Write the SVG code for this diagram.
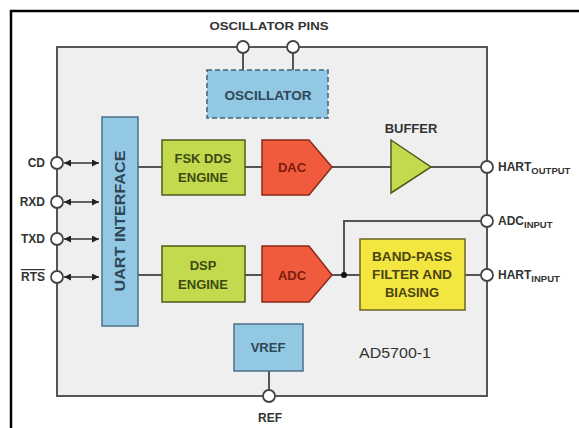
<svg xmlns="http://www.w3.org/2000/svg" width="579" height="428" viewBox="0 0 579 428">
<style>
text{font-family:"Liberation Sans",Arial,sans-serif;font-weight:bold;fill:#333}
.lbl{font-size:11px}
.side{font-size:12px}
.bt{font-size:13px}
.ctr{text-anchor:middle}
.box-blue{fill:#92c8e4;stroke:#4d7189;stroke-width:1.5}
.box-green{fill:#c3d94e;stroke:#4d5b1c;stroke-width:1.5}
.box-red{fill:#ef5b3c;stroke:#8a2a18;stroke-width:1.5}
.box-yellow{fill:#f3e640;stroke:#6b6420;stroke-width:1.5}
.wire{fill:none;stroke:#555;stroke-width:2}
.pin{fill:#fff;stroke:#444;stroke-width:1.8}
.tg{fill:#3e4a14}
.tr{fill:#7a1d10}
.tb{fill:#2f4656}
.ty{fill:#4a4410}
</style>
<defs>
<marker id="ah" viewBox="0 0 10 10" refX="10" refY="5" markerUnits="userSpaceOnUse" markerWidth="10" markerHeight="7" orient="auto-start-reverse">
<path d="M0,0 L10,5 L0,10 z" fill="#222"/>
</marker>
</defs>
<rect width="579" height="428" fill="#fff"/>
<g id="frame">
<path d="M11,428 L11,11 L579,11" fill="none" stroke="#000" stroke-width="2.5"/>
</g>
<g id="chip">
<rect x="57" y="47" width="430" height="349" fill="#efefef" stroke="#555" stroke-width="2"/>
<text x="359" y="358" style="font-size:15px;font-weight:normal" textLength="72" lengthAdjust="spacingAndGlyphs">AD5700-1</text>
</g>
<g id="connectors">
<line class="wire" x1="243" y1="53" x2="243" y2="70"/>
<line class="wire" x1="293" y1="53" x2="293" y2="70"/>
<line class="wire" x1="138" y1="167" x2="162" y2="167"/>
<line class="wire" x1="138" y1="275" x2="162" y2="275"/>
<line class="wire" x1="245" y1="167" x2="262" y2="167"/>
<line class="wire" x1="245" y1="275" x2="262" y2="275"/>
<line class="wire" x1="332" y1="167" x2="391" y2="167"/>
<line class="wire" x1="431" y1="167" x2="481" y2="167"/>
<line class="wire" x1="332" y1="275" x2="360" y2="275"/>
<polyline class="wire" points="344,275 344,221 481,221"/>
<line class="wire" x1="465" y1="275" x2="481" y2="275"/>
<line class="wire" x1="269" y1="371" x2="269" y2="390"/>
<circle cx="344" cy="275" r="3" fill="#111"/>
<g stroke="#333" stroke-width="1.5" fill="none">
<line x1="64" y1="163" x2="99" y2="163" marker-start="url(#ah)" marker-end="url(#ah)"/>
<line x1="64" y1="202" x2="99" y2="202" marker-start="url(#ah)" marker-end="url(#ah)"/>
<line x1="64" y1="239" x2="99" y2="239" marker-start="url(#ah)" marker-end="url(#ah)"/>
<line x1="64" y1="277" x2="99" y2="277" marker-start="url(#ah)" marker-end="url(#ah)"/>
</g>
</g>
<g id="pin-osc1"><circle class="pin" cx="243" cy="47" r="6"/></g>
<g id="pin-osc2"><circle class="pin" cx="293" cy="47" r="6"/></g>
<g id="label-osc-pins"><text class="lbl ctr" x="269" y="30" textLength="119" lengthAdjust="spacingAndGlyphs">OSCILLATOR PINS</text></g>
<g id="pin-cd"><circle class="pin" cx="57" cy="163" r="6"/><text class="side" x="45" y="167" text-anchor="end">CD</text></g>
<g id="pin-rxd"><circle class="pin" cx="57" cy="202" r="6"/><text class="side" x="45" y="206" text-anchor="end">RXD</text></g>
<g id="pin-txd"><circle class="pin" cx="57" cy="239" r="6"/><text class="side" x="45" y="243" text-anchor="end">TXD</text></g>
<g id="pin-rts"><circle class="pin" cx="57" cy="277" r="6"/><text class="side" x="45" y="281" text-anchor="end" text-decoration="overline">RTS</text></g>
<g id="pin-hart-out"><circle class="pin" cx="487" cy="167" r="6"/><text class="side" x="498" y="171">HART<tspan style="font-size:9.5px" dy="3">OUTPUT</tspan></text></g>
<g id="pin-adc-in"><circle class="pin" cx="487" cy="221" r="6"/><text class="side" x="498" y="225">ADC<tspan style="font-size:9.5px" dy="3">INPUT</tspan></text></g>
<g id="pin-hart-in"><circle class="pin" cx="487" cy="275" r="6"/><text class="side" x="498" y="279">HART<tspan style="font-size:9.5px" dy="3">INPUT</tspan></text></g>
<g id="pin-ref"><circle class="pin" cx="269" cy="396" r="6"/><text class="side ctr" x="270" y="422">REF</text></g>
<g id="oscillator">
<rect x="207" y="70" width="121" height="48" fill="#92c8e4" stroke="#3f6177" stroke-width="1.5" stroke-dasharray="5,3"/>
<text class="bt ctr tb" x="268" y="100" textLength="87" lengthAdjust="spacingAndGlyphs">OSCILLATOR</text>
</g>
<g id="uart">
<rect class="box-blue" x="102" y="117" width="36" height="209"/>
<text class="tb ctr" style="font-size:15px" transform="translate(125,221) rotate(-90)" textLength="141" lengthAdjust="spacingAndGlyphs">UART INTERFACE</text>
</g>
<g id="fsk">
<rect class="box-green" x="162" y="140" width="83" height="55"/>
<text class="bt ctr tg" x="203" y="163">FSK DDS</text>
<text class="bt ctr tg" x="203" y="182">ENGINE</text>
</g>
<g id="dsp">
<rect class="box-green" x="162" y="246" width="83" height="56"/>
<text class="bt ctr tg" x="203" y="270">DSP</text>
<text class="bt ctr tg" x="203" y="289">ENGINE</text>
</g>
<g id="dac">
<polygon class="box-red" points="262,140 309,140 332,167 309,195 262,195"/>
<text class="bt ctr tr" x="292" y="172">DAC</text>
</g>
<g id="adc">
<polygon class="box-red" points="262,246 309,246 332,275 309,302 262,302"/>
<text class="bt ctr tr" x="292" y="280">ADC</text>
</g>
<g id="buffer">
<polygon class="box-green" points="391,140 431,167 391,193"/>
<text class="bt ctr" x="411" y="133">BUFFER</text>
</g>
<g id="bandpass">
<rect class="box-yellow" x="360" y="239" width="105" height="71"/>
<text class="bt ctr ty" x="412" y="261" textLength="80" lengthAdjust="spacingAndGlyphs">BAND-PASS</text>
<text class="bt ctr ty" x="412" y="279" textLength="80" lengthAdjust="spacingAndGlyphs">FILTER AND</text>
<text class="bt ctr ty" x="412" y="297">BIASING</text>
</g>
<g id="vref">
<rect class="box-blue" x="234" y="324" width="69" height="47"/>
<text class="bt ctr tb" x="268" y="352">VREF</text>
</g>
</svg>
